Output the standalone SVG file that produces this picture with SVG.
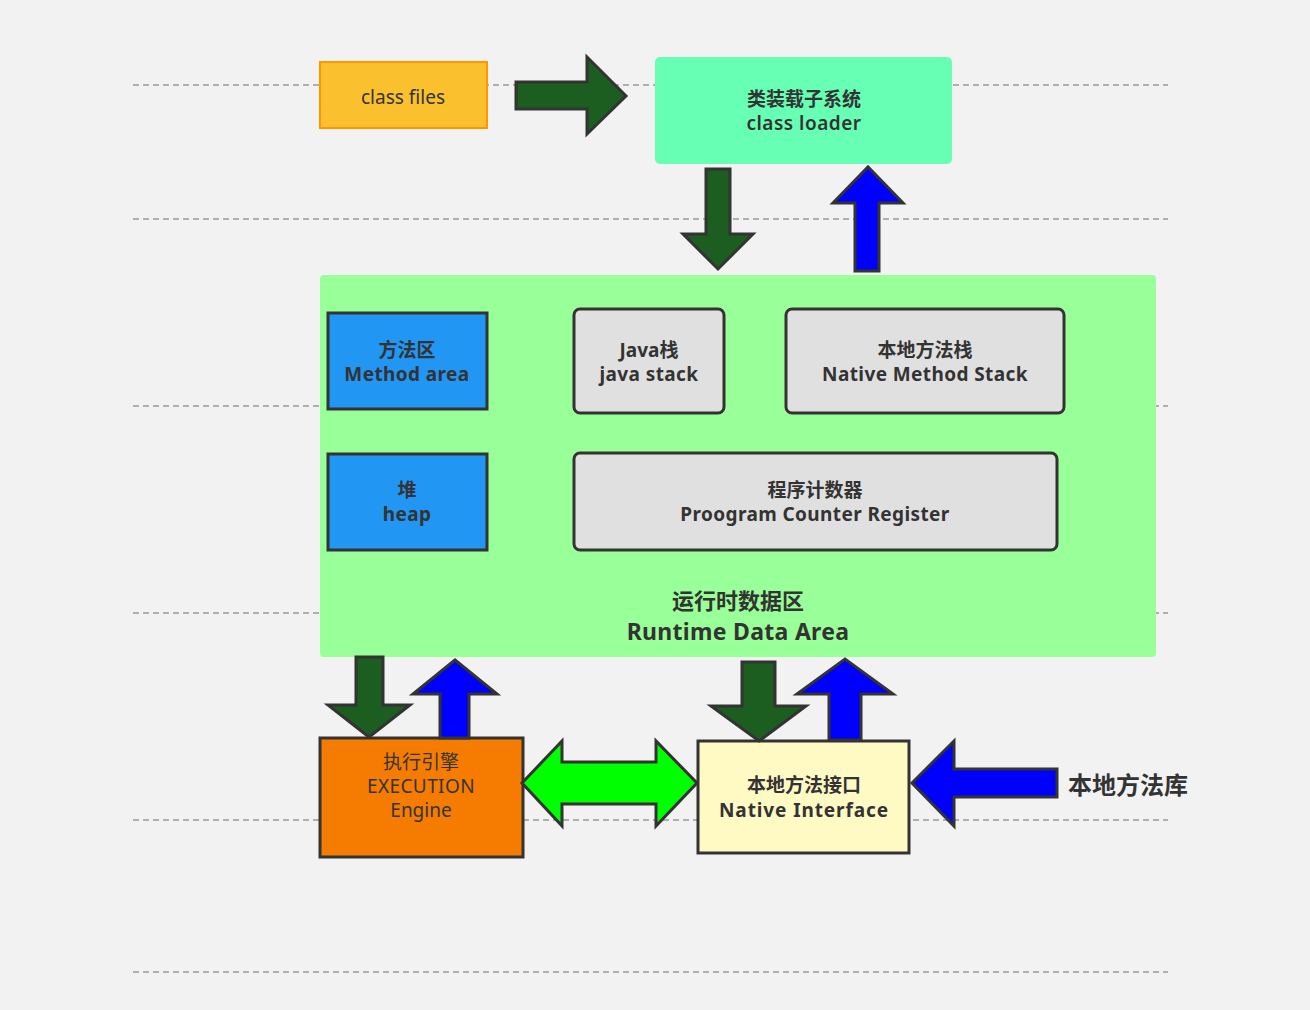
<svg xmlns="http://www.w3.org/2000/svg" width="1310" height="1010" viewBox="0 0 1310 1010">
<style>
text{font-family:"Noto Sans","Noto Sans CJK SC",sans-serif;fill:#333;text-anchor:middle}
.b{font-weight:bold;font-size:19px}
.w{letter-spacing:0.4px}
.n{font-size:19px}
.dash{stroke:#999;stroke-width:1.3;stroke-dasharray:6 4;fill:none}
.arr{stroke:#333;stroke-width:3;stroke-linejoin:miter}
.dg{fill:#1b5e20}
.bl{fill:#0000ff}
.lg{fill:#00ff00}
.box{stroke:#333;stroke-width:3}
</style>
<rect width="1310" height="1010" fill="#f2f2f2"/>
<g id="guides">
<line class="dash" x1="133" y1="85" x2="1168" y2="85"/>
<line class="dash" x1="133" y1="219" x2="1168" y2="219"/>
<line class="dash" x1="133" y1="406" x2="1168" y2="406"/>
<line class="dash" x1="133" y1="613" x2="1168" y2="613"/>
<line class="dash" x1="133" y1="820" x2="1168" y2="820"/>
<line class="dash" x1="133" y1="972" x2="1168" y2="972"/>
</g>
<g id="class-files">
<rect x="320" y="62" width="167" height="66" fill="#fbc02d" stroke="#ff9800" stroke-width="2"/>
<text class="n" x="403" y="104">class files</text>
</g>
<g id="class-loader">
<rect x="655" y="57" width="297" height="107" rx="5" fill="#66ffb3"/>
<text class="b" x="804" y="106">类装载子系统</text>
<text x="804" y="130" style="font-weight:600;font-size:19px;letter-spacing:0.5px">class loader</text>
</g>
<g id="runtime-data-area">
<rect x="320" y="275" width="836" height="382" rx="4" fill="#99ff99"/>
<text x="738" y="609" style="font-weight:bold;font-size:22px">运行时数据区</text>
<text x="738" y="640" style="font-weight:bold;font-size:23px;letter-spacing:0.3px">Runtime Data Area</text>
</g>
<g id="method-area">
<rect class="box" x="328" y="313" width="159" height="96" fill="#2196f3"/>
<text class="b" x="407" y="357">方法区</text>
<text class="b w" x="407" y="381">Method area</text>
</g>
<g id="heap">
<rect class="box" x="328" y="454" width="159" height="96" fill="#2196f3"/>
<text class="b" x="407" y="497">堆</text>
<text class="b w" x="407" y="521">heap</text>
</g>
<g id="java-stack">
<rect class="box" x="574" y="309" width="150" height="104" rx="6" fill="#e0e0e0"/>
<text class="b" x="649" y="357">Java栈</text>
<text class="b w" x="649" y="381">java stack</text>
</g>
<g id="native-method-stack">
<rect class="box" x="786" y="309" width="278" height="104" rx="6" fill="#e0e0e0"/>
<text class="b" x="925" y="357">本地方法栈</text>
<text class="b w" x="925" y="381">Native Method Stack</text>
</g>
<g id="program-counter">
<rect class="box" x="574" y="453" width="483" height="97" rx="6" fill="#e0e0e0"/>
<text class="b" x="815" y="497">程序计数器</text>
<text class="b w" x="815" y="521">Proogram Counter Register</text>
</g>
<g id="execution-engine">
<rect class="box" x="320" y="738" width="203" height="119" fill="#f57c00"/>
<text class="n" x="421" y="769">执行引擎</text>
<text class="n" x="421" y="793" style="letter-spacing:0.4px">EXECUTION</text>
<text class="n" x="421" y="817">Engine</text>
</g>
<g id="native-interface">
<rect class="box" x="698" y="741" width="211" height="112" fill="#fff9c4"/>
<text class="b" x="804" y="792">本地方法接口</text>
<text class="b" x="804" y="817" style="letter-spacing:0.9px">Native Interface</text>
</g>
<g id="native-library">
<text x="1068" y="794" style="font-weight:bold;font-size:24px;text-anchor:start">本地方法库</text>
</g>
<g id="connectors">
<polygon class="arr dg" points="516,82 587,82 587,57 626,96 587,134 587,109 516,109"/>
<polygon class="arr dg" points="706,169 730,169 730,234 753,234 718,269 683,234 706,234"/>
<polygon class="arr bl" points="855,271 879,271 879,203 903,203 868,167 833,203 855,203"/>
<polygon class="arr dg" points="356,657 383,657 383,705 410,705 369,737 328,705 356,705"/>
<polygon class="arr bl" points="440,738 469,738 469,694 497,694 455,660 413,694 440,694"/>
<polygon class="arr dg" points="742,662 775,662 775,706 806,706 759,741 711,706 742,706"/>
<polygon class="arr bl" points="829,740 861,740 861,694 893,694 845,659 797,694 829,694"/>
<polygon class="arr lg" points="522,783 562,741 562,762 656,762 656,741 697,783 656,826 656,804 562,804 562,826"/>
<polygon class="arr bl" points="1057,769 954,769 954,741 912,783 954,826 954,797 1057,797"/>
</g>
</svg>
